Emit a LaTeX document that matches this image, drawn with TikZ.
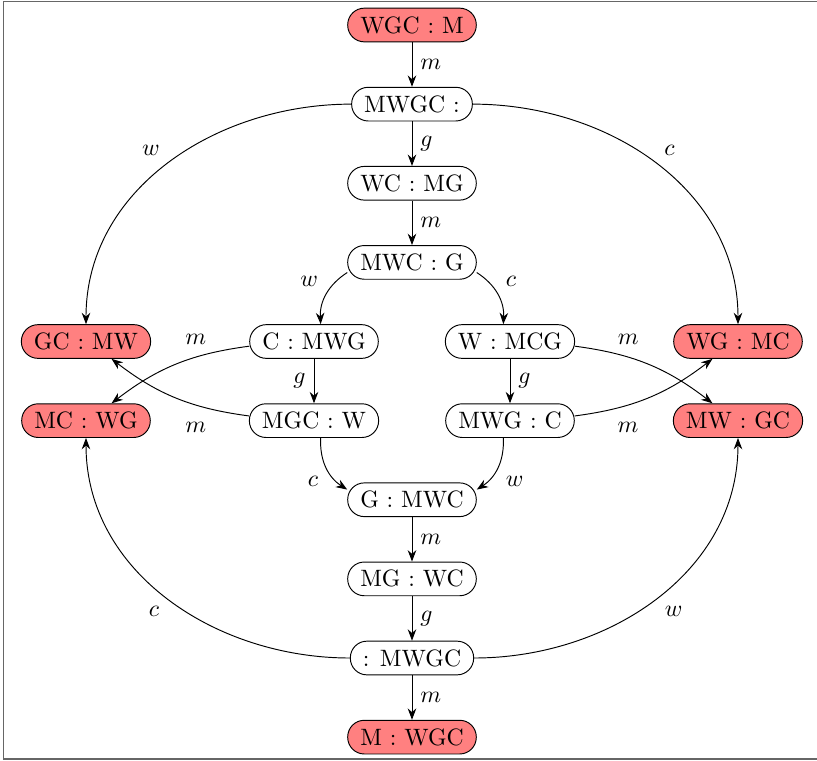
\documentclass[tikz,border=0pt]{standalone}
\usepackage{xcolor}
\usepackage{tikz}
\usetikzlibrary{arrows.meta}

\begin{document}
\begin{tikzpicture}[>=Stealth, bank/.style={draw, rounded corners=7pt, fill=white, inner xsep=5.3pt, minimum height=5mm}, lost/.style={bank, fill=red!50}]
\useasboundingbox (-6.113,0.371) rectangle (6.009,-10.92);
\draw[gray!80!black, line width=0.6pt] (6.2,0.35) -| (-6.06,-10.89) -- (6.2,-10.89);
\node[lost] (n0) at (0,0) {WGC : M};
\node[bank] (n1) at (0,-1.174) {MWGC :};
\node[bank] (n2) at (0,-2.348) {WC : MG};
\node[bank] (n3) at (0,-3.522) {MWC : G};
\node[bank] (n4) at (-1.454,-4.696) {C : MWG};
\node[bank] (n5) at (1.454,-4.696) {W : MCG};
\node[bank] (n6) at (-1.454,-5.87) {MGC : W};
\node[bank] (n7) at (1.454,-5.87) {MWG : C};
\node[bank] (n8) at (0,-7.044) {G : MWC};
\node[bank] (n9) at (0,-8.218) {MG : WC};
\node[bank] (n10) at (0,-9.392) {: MWGC};
\node[lost] (n11) at (0,-10.566) {M : WGC};
\node[lost] (l1) at (-4.837,-4.696) {GC : MW};
\node[lost] (l2) at (-4.837,-5.87) {MC : WG};
\node[lost] (l3) at (4.837,-4.696) {WG : MC};
\node[lost] (l4) at (4.837,-5.87) {MW : GC};
\draw[->] (n0) -- node[right] {$m$} (n1);
\draw[->] (n1) -- node[right] {$g$} (n2);
\draw[->] (n2) -- node[right] {$m$} (n3);
\draw[->] (n3) to[bend right] node[above left] {$w$} (n4);
\draw[->] (n3) to[bend left] node[above right] {$c$} (n5);
\draw[->] (n4) -- node[left] {$g$} (n6);
\draw[->] (n5) -- node[right] {$g$} (n7);
\draw[->] (n6) to[bend right] node[below left] {$c$} (n8);
\draw[->] (n7) to[bend left] node[below right] {$w$} (n8);
\draw[->] (n8) -- node[right] {$m$} (n9);
\draw[->] (n9) -- node[right] {$g$} (n10);
\draw[->] (n10) -- node[right] {$m$} (n11);
\draw[->] (n1) to[out=180,in=90] node[above left] {$w$} (l1);
\draw[->] (n1) to[out=0,in=90] node[above right] {$c$} (l3);
\draw[->] (n10) to[out=180,in=-90] node[below left] {$c$} (l2);
\draw[->] (n10) to[out=0,in=-90] node[below right] {$w$} (l4);
\draw[->] (n4) to[bend right=15] node[pos=0.35,above=2pt] {$m$} (l2);
\draw[->] (n6) to[bend left=15] node[pos=0.35,below=4pt] {$m$} (l1);
\draw[->] (n5) to[bend left=15] node[pos=0.35,above=2pt] {$m$} (l4);
\draw[->] (n7) to[bend right=15] node[pos=0.35,below=4pt] {$m$} (l3);
\end{tikzpicture}
\end{document}
